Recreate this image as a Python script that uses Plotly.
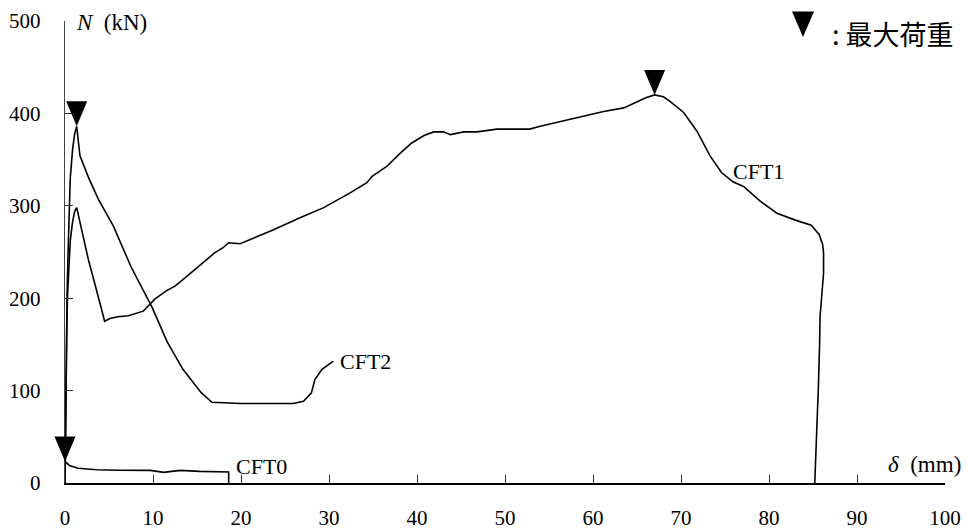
import plotly.graph_objects as go

# ---- data (delta in mm, N in kN) ----
cft1_x = [0, 0.05, 0.12, 0.2, 0.3, 0.45, 0.6, 0.85, 1.1, 1.33, 1.7, 2.2, 2.65, 3.1, 3.6, 4.1, 4.5,
          5.1, 6.0, 7.2, 8.9, 10.2, 11.5, 12.5, 13.5, 15.2, 17.0, 18.0, 18.6, 19.9, 21.4, 23.7,
          26.7, 29.4, 32.4, 34.3, 34.9, 36.6, 38.1, 39.4, 40.8, 41.9, 43.0, 43.8, 45.3, 46.8,
          49.1, 52.8, 54.0, 56.6, 58.9, 61.2, 63.5, 65.0, 66.0, 67.0, 68.0, 68.75, 70.3, 71.8,
          73.3, 74.6, 75.9, 77.1, 79.0, 80.9, 83.0, 84.8, 85.7, 86.1, 86.2, 86.2, 86.0, 85.8,
          85.75, 85.7, 85.6, 85.5, 85.3, 85.2, 85.2]
cft1_n = [0, 60, 120, 170, 205, 240, 262, 282, 294, 298, 282, 262, 242, 226, 209, 190, 175,
          178, 180, 181, 186, 199, 208, 213, 221, 235, 249, 255, 260, 259, 265, 274,
          287, 298, 314, 325, 332, 343, 357, 368, 376, 380, 380, 377, 380, 380,
          383, 383, 386, 392, 397, 402, 406, 413, 417, 420, 418, 413, 401, 381,
          354, 336, 326, 321, 305, 292, 284.5, 279, 269, 258, 249, 227, 200, 180,
          150, 126, 100, 76, 36, 15, 0]

cft2_x = [0, 0.08, 0.15, 0.25, 0.35, 0.45, 0.6, 0.85, 1.1, 1.33, 1.7, 2.7, 3.8, 5.5, 7.5,
          9.9, 11.0, 11.6, 13.4, 15.5, 16.7, 20.0, 25.9, 27.1, 28.0, 28.4, 29.2, 30.5]
cft2_n = [0, 70, 150, 210, 250, 290, 330, 360, 378, 386, 354, 330, 307, 278, 234,
          190, 166, 153, 123, 97.5, 87.3, 86, 86, 88.4, 97.5, 112, 123, 132]

cft0_x = [0, 0, 0.5, 1.5, 3.6, 6.0, 9.7, 11.2, 13.1, 15.3, 18.6, 18.6]
cft0_n = [0, 23.4, 19, 16, 14.4, 13.8, 13.7, 11.5, 13.7, 12.6, 11.9, 0]

series_names = ["CFT1", "CFT2", "CFT0"]
x_ticks = [0, 10, 20, 30, 40, 50, 60, 70, 80, 90, 100]
y_ticks = [0, 100, 200, 300, 400, 500]
X_RANGE = [0, 100]
Y_RANGE = [0, 500]

SERIF = "Liberation Serif, Times New Roman, serif"
CJK = "Noto Sans CJK JP"

fig = go.Figure()
series = [(cft1_x, cft1_n), (cft2_x, cft2_n), (cft0_x, cft0_n)]
for name, (xs, ys) in zip(series_names, series):
    fig.add_trace(go.Scatter(x=xs, y=ys, mode="lines", name=name,
                             line=dict(color="black", width=1.6), showlegend=False))

# maximum-load triangles (pixel-sized shapes anchored at each series' max);
# x given as a domain fraction so the triangle is not clipped at the y axis
tri_path = "M-10.5,25 L10.5,25 L0,0 Z"
for xs, ys in series:
    i = max(range(len(ys)), key=lambda k: ys[k])
    fx = (xs[i] - X_RANGE[0]) / (X_RANGE[1] - X_RANGE[0])
    fig.add_shape(type="path", xref="x domain", yref="y", xsizemode="pixel", ysizemode="pixel",
                  xanchor=fx, yanchor=ys[i], path=tri_path,
                  fillcolor="black", line=dict(color="black", width=0))

# legend triangle
fig.add_shape(type="path", xref="paper", yref="paper", xsizemode="pixel", ysizemode="pixel",
              xanchor=1, yanchor=1, path="M-153,9.5 L-131,9.5 L-142,-16 Z",
              fillcolor="black", line=dict(color="black", width=0))

annotations = [
    dict(x=100, y=500, text=": 最大荷重", xanchor="right", yanchor="middle",
         xshift=11, yshift=-12, font=dict(family=CJK, size=27, color="black")),
    dict(x=0, y=500, text="<i>N</i>\u00a0\u00a0(kN)", xanchor="left", yanchor="middle",
         xshift=9, yshift=-1, font=dict(family=SERIF, size=23, color="black")),
    dict(x=100, y=0, text="<i>δ</i>\u00a0\u00a0(mm)", xanchor="right", yanchor="middle",
         xshift=18, yshift=19, font=dict(family=SERIF, size=23, color="black")),
    dict(x=75.7, y=337, text="CFT1", xanchor="left", yanchor="middle",
         font=dict(family=SERIF, size=22, color="black")),
    dict(x=31.0, y=132, text="CFT2", xanchor="left", yanchor="middle",
         font=dict(family=SERIF, size=22, color="black")),
    dict(x=19.2, y=18, text="CFT0", xanchor="left", yanchor="middle",
         font=dict(family=SERIF, size=22, color="black")),
]
for a in annotations:
    fig.add_annotation(showarrow=False, **a)

fig.update_xaxes(range=X_RANGE, tickvals=x_ticks, ticks="inside", ticklen=8,
                 tickwidth=1, tickcolor="#333", showline=True, linecolor="black",
                 linewidth=2, showgrid=False, zeroline=False, automargin=False,
                 tickfont=dict(family=SERIF, size=21, color="black"),
                 ticklabelstandoff=15)
fig.update_yaxes(range=Y_RANGE, tickvals=y_ticks, ticks="inside", ticklen=8,
                 tickwidth=1, tickcolor="#333", showline=True, linecolor="#444",
                 linewidth=1.4, showgrid=False, zeroline=False, automargin=False,
                 tickfont=dict(family=SERIF, size=21, color="black"),
                 ticklabelstandoff=19)
fig.update_layout(width=968, height=531, margin=dict(l=65, r=23, t=21, b=48),
                  plot_bgcolor="white", paper_bgcolor="white")
fig.write_html("out.html")
